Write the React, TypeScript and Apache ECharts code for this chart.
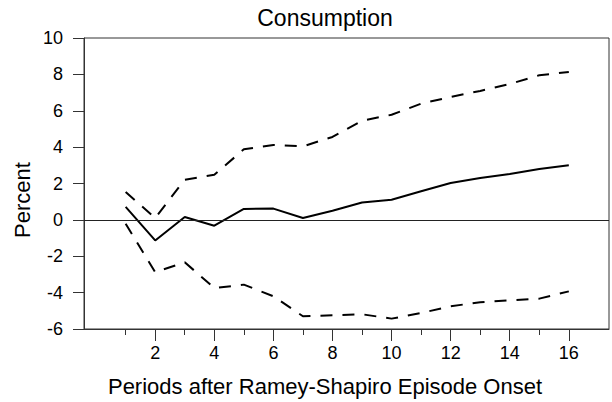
import React, { useEffect, useRef } from "react";
import * as echarts from "echarts";

const periods = [1, 2, 3, 4, 5, 6, 7, 8, 9, 10, 11, 12, 13, 14, 15, 16];
const response = [0.71, -1.13, 0.16, -0.32, 0.6, 0.62, 0.1, 0.5, 0.96, 1.11, 1.57, 2.03, 2.3, 2.52, 2.8, 3.0];
const upperBand = [1.53, 0.1, 2.21, 2.48, 3.88, 4.12, 4.04, 4.56, 5.45, 5.78, 6.39, 6.76, 7.09, 7.47, 7.95, 8.13];
const lowerBand = [-0.21, -2.88, -2.33, -3.75, -3.56, -4.2, -5.3, -5.25, -5.19, -5.43, -5.12, -4.75, -4.53, -4.42, -4.33, -3.93];
const majorXTicks = [2, 4, 6, 8, 10, 12, 14, 16];
const minorXTicks = [1, 3, 5, 7, 9, 11, 13, 15];

const FONT = "'Liberation Sans', Arial, Helvetica, sans-serif";

export default function App() {
  const ref = useRef<HTMLDivElement>(null);
  useEffect(() => {
    if (!ref.current) return;
    const chart = echarts.init(ref.current, null, { renderer: "svg" });
    const pair = (vals: number[]) => periods.map((p, i) => [p, vals[i]]);
    chart.setOption({
      animation: false,
      backgroundColor: "#fff",
      textStyle: { fontFamily: FONT, color: "#000" },
      grid: {
        left: 84,
        top: 38,
        right: 3,
        bottom: 73,
        show: true,
        borderColor: "#333",
        borderWidth: 1,
        containLabel: false,
      },
      xAxis: [
        {
          type: "value",
          min: -0.41,
          max: 17.36,
          axisLine: { show: true, onZero: false, lineStyle: { color: "#333", width: 1 } },
          axisTick: { show: true, customValues: majorXTicks, length: 12, inside: false, lineStyle: { color: "#333" } },
          axisLabel: { customValues: majorXTicks, fontSize: 18, color: "#000", margin: 15, fontFamily: FONT },
          splitLine: { show: false },
        },
        {
          type: "value",
          min: -0.41,
          max: 17.36,
          position: "bottom",
          axisLine: { show: false, onZero: false },
          axisTick: { show: true, customValues: minorXTicks, length: 6, inside: false, lineStyle: { color: "#333" } },
          axisLabel: { show: false, customValues: minorXTicks },
          splitLine: { show: false },
        },
      ],
      yAxis: {
        type: "value",
        min: -6,
        max: 10,
        interval: 2,
        axisLine: { show: true, onZero: false, lineStyle: { color: "#333", width: 1 } },
        axisTick: { show: true, length: 11, lineStyle: { color: "#333" } },
        axisLabel: { fontSize: 18, color: "#000", margin: 21, fontFamily: FONT },
        splitLine: { show: false },
      },
      graphic: [
        {
          type: "text",
          x: 325,
          y: 18,
          style: { text: "Consumption", font: `23px ${FONT}`, fill: "#000", align: "center", verticalAlign: "middle" },
        },
        {
          type: "text",
          x: 325,
          y: 386,
          style: { text: "Periods after Ramey-Shapiro Episode Onset", font: `22px ${FONT}`, fill: "#000", align: "center", verticalAlign: "middle" },
        },
        {
          type: "text",
          x: 22,
          y: 200,
          rotation: Math.PI / 2,
          style: { text: "Percent", font: `22px ${FONT}`, fill: "#000", align: "center", verticalAlign: "middle" },
        },
      ],
      series: [
        {
          type: "line",
          data: pair(response),
          symbol: "none",
          lineStyle: { color: "#000", width: 2 },
          z: 3,
          markLine: {
            silent: true,
            symbol: ["none", "none"],
            label: { show: false },
            lineStyle: { color: "#222", width: 1, type: "solid" },
            data: [{ yAxis: 0 }],
          },
        },
        {
          type: "line",
          data: pair(upperBand),
          symbol: "none",
          lineStyle: { color: "#000", width: 2, type: [12, 10] },
        },
        {
          type: "line",
          data: pair(lowerBand),
          symbol: "none",
          lineStyle: { color: "#000", width: 2, type: [12, 10] },
        },
      ],
    });
    return () => chart.dispose();
  }, []);
  return <div ref={ref} style={{ position: "absolute", left: 0, top: 0, width: 612, height: 402 }} />;
}
